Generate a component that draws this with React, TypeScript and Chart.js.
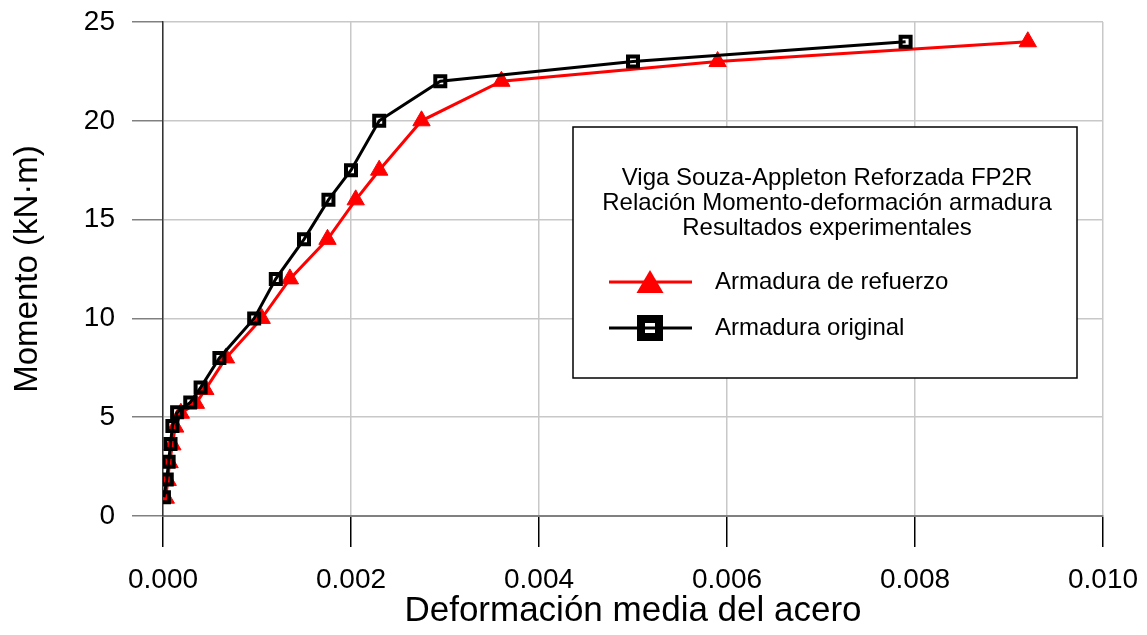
import React, { useEffect, useRef } from "react";
import { Chart, registerables } from "chart.js";

Chart.register(...registerables);

const FONT = '"Liberation Sans", Arial, sans-serif';

// Armadura de refuerzo (red triangles)
const refuerzoStrain = [0.00003, 0.00005, 0.00007, 0.0001, 0.00013, 0.00019, 0.00035, 0.00045, 0.00067, 0.00105, 0.00135, 0.00175, 0.00205, 0.0023, 0.00275, 0.0036, 0.0059, 0.0092];
const refuerzoMoment = [0.9, 1.8, 2.7, 3.6, 4.5, 5.2, 5.7, 6.4, 8, 10, 12, 14, 16, 17.5, 20, 22, 23, 24];

// Armadura original (black squares)
const originalStrain = [0.00001, 0.00004, 0.00006, 0.00008, 0.0001, 0.00015, 0.00029, 0.0004, 0.0006, 0.00097, 0.0012, 0.0015, 0.00176, 0.002, 0.0023, 0.00295, 0.005, 0.0079];
const originalMoment = [0.95, 1.85, 2.75, 3.65, 4.55, 5.25, 5.75, 6.5, 8, 10, 12, 14, 16, 17.5, 20, 22, 23, 24];

const legendTitle = [
  "Viga Souza-Appleton Reforzada FP2R",
  "Relación Momento-deformación armadura",
  "Resultados experimentales",
];
const seriesLabels = ["Armadura de refuerzo", "Armadura original"];
const xTitle = "Deformación media del acero";
const yTitle = "Momento (kN·m)";

const toPoints = (xs: number[], ys: number[]) => xs.map((x, i) => ({ x, y: ys[i] }));

const boxLegend = {
  id: "boxLegend",
  afterDraw(chart: any) {
    const ctx = chart.ctx as CanvasRenderingContext2D;
    const ca = chart.chartArea;
    const bx = ca.left + 410;
    const by = ca.top + 105;
    const bw = 504;
    const bh = 251;
    ctx.save();
    ctx.fillStyle = "#ffffff";
    ctx.fillRect(bx, by, bw, bh);
    ctx.strokeStyle = "#000000";
    ctx.lineWidth = 1.5;
    ctx.strokeRect(bx, by, bw, bh);

    ctx.fillStyle = "#000000";
    ctx.font = `24px ${FONT}`;
    ctx.textAlign = "center";
    ctx.textBaseline = "middle";
    legendTitle.forEach((t, i) => ctx.fillText(t, bx + bw / 2 + 2, by + 51 + i * 25));

    const lx0 = bx + 36;
    const lx1 = bx + 119;
    const mx = bx + 77;
    const y1 = by + 155;
    const y2 = by + 201;

    // red entry
    ctx.strokeStyle = "#ff0000";
    ctx.lineWidth = 3;
    ctx.beginPath();
    ctx.moveTo(lx0, y1);
    ctx.lineTo(lx1, y1);
    ctx.stroke();
    ctx.fillStyle = "#ff0000";
    ctx.beginPath();
    ctx.moveTo(mx, y1 - 12);
    ctx.lineTo(mx + 13.5, y1 + 11);
    ctx.lineTo(mx - 13.5, y1 + 11);
    ctx.closePath();
    ctx.fill();

    // black entry
    ctx.strokeStyle = "#000000";
    ctx.lineWidth = 3;
    ctx.beginPath();
    ctx.moveTo(lx0, y2);
    ctx.lineTo(lx1, y2);
    ctx.stroke();
    ctx.lineWidth = 8;
    ctx.strokeRect(mx - 9, y2 - 9, 18, 18);

    ctx.fillStyle = "#000000";
    ctx.font = `24px ${FONT}`;
    ctx.textAlign = "left";
    ctx.textBaseline = "middle";
    ctx.fillText(seriesLabels[0], bx + 142, y1);
    ctx.fillText(seriesLabels[1], bx + 142, y2);
    ctx.restore();
  },
};

const noOverhang = (s: any) => {
  s.paddingTop = 0;
  s.paddingBottom = 0;
  s.paddingLeft = 0;
  s.paddingRight = 0;
};

export default function App() {
  const ref = useRef<HTMLCanvasElement | null>(null);

  useEffect(() => {
    if (!ref.current) return;
    const chart = new Chart(ref.current, {
      type: "line",
      data: {
        datasets: [
          {
            label: seriesLabels[0],
            data: toPoints(refuerzoStrain, refuerzoMoment),
            borderColor: "#ff0000",
            backgroundColor: "#ff0000",
            borderWidth: 3,
            pointStyle: "triangle",
            pointRadius: 10,
            pointBorderWidth: 1,
            pointBackgroundColor: "#ff0000",
            pointBorderColor: "#ff0000",
            tension: 0,
            order: 1,
          },
          {
            label: seriesLabels[1],
            data: toPoints(originalStrain, originalMoment),
            borderColor: "#000000",
            backgroundColor: "rgba(0,0,0,0)",
            borderWidth: 3,
            pointStyle: "rect",
            pointRadius: 7.07,
            pointBorderWidth: 4,
            pointBackgroundColor: "rgba(0,0,0,0)",
            pointBorderColor: "#000000",
            tension: 0,
            order: 0,
          },
        ],
      },
      options: {
        responsive: false,
        animation: false,
        layout: { padding: { top: 22, right: 44, left: 0, bottom: 0 } },
        plugins: {
          legend: { display: false },
          tooltip: { enabled: false },
        },
        scales: {
          x: {
            type: "linear",
            min: 0,
            max: 0.01,
            ticks: {
              stepSize: 0.002,
              callback: (v: any) => Number(v).toFixed(3),
              font: { size: 28, family: FONT },
              color: "#000000",
              padding: 16,
              maxRotation: 0,
              autoSkip: false,
            },
            grid: {
              color: "#c8c8c8",
              lineWidth: 1.5,
              tickColor: "#000000",
              tickLength: 31,
              tickWidth: 1.5,
            },
            border: { color: "#808080", width: 2 },
            title: {
              display: true,
              text: xTitle,
              font: { size: 35, family: FONT, lineHeight: 1 },
              color: "#000000",
              padding: { top: 0, bottom: 6 },
            },
            afterFit: (s: any) => {
              s.height = 119;
              noOverhang(s);
            },
          },
          y: {
            type: "linear",
            min: 0,
            max: 25,
            ticks: {
              stepSize: 5,
              font: { size: 28, family: FONT },
              color: "#000000",
              padding: 17,
            },
            grid: {
              color: "#c8c8c8",
              lineWidth: 1.5,
              tickColor: "#808080",
              tickLength: 31,
              tickWidth: 1.5,
            },
            border: { color: "#333333", width: 1.5 },
            title: {
              display: true,
              text: yTitle,
              font: { size: 33, family: FONT, lineHeight: 1 },
              color: "#000000",
              padding: { top: 11, bottom: 0 },
            },
            afterFit: (s: any) => {
              s.width = 163;
              noOverhang(s);
            },
          },
        },
      },
      plugins: [boxLegend],
    } as any);
    return () => chart.destroy();
  }, []);

  return (
    <div style={{ position: "absolute", left: 0, top: 0, width: 1147, height: 635, background: "#fff" }}>
      <canvas ref={ref} width={1147} height={635} style={{ display: "block" }} />
    </div>
  );
}
